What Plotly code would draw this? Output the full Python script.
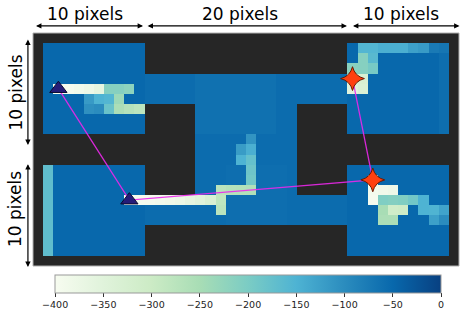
import plotly.graph_objects as go

# ---------------- data ----------------
# '#' = wall, '.' = open cell (42 columns x 23 rows)
grid_map = [
    "##########################################",
    "#..........####################..........#",
    "#..........####################..........#",
    "#..........####################..........#",
    "#........................................#",
    "#........................................#",
    "#........................................#",
    "#..........#####..........#####..........#",
    "#..........#####..........#####..........#",
    "#..........#####..........#####..........#",
    "################..........################",
    "################..........################",
    "################..........################",
    "#..........#####..........#####..........#",
    "#..........#####..........#####..........#",
    "#..........#####..........#####..........#",
    "#........................................#",
    "#........................................#",
    "#........................................#",
    "#..........####################..........#",
    "#..........####################..........#",
    "#..........####################..........#",
    "##########################################",
]

base_value = -50
# (row_from, row_to, col_from, col_to, value)
region_values = [
    (4, 18, 11, 30, -56),
    (4, 9, 16, 23, -62),
    (13, 18, 19, 24, -59),
    (1, 9, 40, 40, -58),
    (13, 21, 1, 1, -170),
]
# (row, col, value)
cell_values = [
    # top-left room
    (5, 2, -400), (5, 3, -396), (5, 4, -388), (5, 5, -378), (5, 6, -362),
    (5, 7, -212), (5, 8, -212), (5, 9, -220),
    (6, 5, -118), (6, 6, -150), (6, 7, -155), (6, 8, -238),
    (7, 5, -105), (7, 6, -100), (7, 7, -180), (7, 8, -255), (7, 9, -268), (7, 10, -278),
    # bottom-left room -> middle corridor
    (16, 9, -400), (16, 10, -398), (16, 11, -395), (16, 12, -390), (16, 13, -384),
    (16, 14, -375), (16, 15, -362), (16, 16, -350), (16, 17, -332), (16, 18, -282),
    (15, 18, -275), (15, 19, -268), (15, 20, -266), (15, 21, -262),
    (17, 18, -276),
    (14, 21, -190), (13, 21, -185), (12, 21, -175), (12, 20, -150),
    (11, 20, -120), (11, 21, -145), (10, 21, -110),
    # top-right room
    (1, 32, -155), (1, 33, -155), (1, 34, -145), (1, 35, -145), (1, 36, -145),
    (1, 37, -125), (1, 38, -118), (1, 39, -75), (1, 40, -70),
    (2, 32, -212), (2, 33, -162),
    (3, 31, -216), (3, 32, -212), (3, 33, -196),
    (4, 31, -340), (4, 32, -330),
    (5, 31, -352), (5, 32, -336),
    # bottom-right room
    (14, 33, -396),
    (15, 33, -392), (15, 34, -386), (15, 35, -380),
    (16, 33, -396), (16, 34, -205), (16, 35, -210), (16, 36, -206), (16, 37, -190), (16, 38, -150),
    (17, 34, -250), (17, 35, -310), (17, 36, -305), (17, 38, -150), (17, 39, -152), (17, 40, -130),
    (18, 34, -255), (18, 35, -255), (18, 39, -125), (18, 40, -100),
]

triangles_col = [2, 9]
triangles_row = [5, 16]
stars_col = [33, 31]
stars_row = [14, 4]
path_col = [2, 9, 33, 31]
path_row = [5, 16, 14, 4]

colorbar_ticks = [-400, -350, -300, -250, -200, -150, -100, -50, 0]

# dimension labels, positions in grid units (columns / rows)
top_labels = ["10 pixels", "20 pixels", "10 pixels"]
top_label_cols = [4.6, 19.9, 35.8]
top_spans = [(-0.35, 10.35), (10.65, 30.45), (30.9, 41.55)]
side_labels = ["10 pixels", "10 pixels"]
side_label_rows = [5.4, 16.9]
side_spans = [(0.0, 10.55), (12.3, 22.6)]

gnbu = ['rgb(247,252,240)', 'rgb(224,243,219)', 'rgb(204,235,197)',
        'rgb(168,221,181)', 'rgb(123,204,196)', 'rgb(78,179,211)',
        'rgb(43,140,190)', 'rgb(8,104,172)', 'rgb(8,64,129)']

# ---------------- build grid ----------------
n_rows = len(grid_map)
n_cols = len(grid_map[0])
z = [[(base_value if ch == '.' else None) for ch in row] for row in grid_map]
for r0, r1, c0, c1, v in region_values:
    for r in range(r0, r1 + 1):
        for c in range(c0, c1 + 1):
            if z[r][c] is not None:
                z[r][c] = v
for r, c, v in cell_values:
    if z[r][c] is not None:
        z[r][c] = v

W, H = 471, 311
ML, MR, MT, MB = 33, 12, 33, 45
plot_w = W - ML - MR
plot_h = H - MT - MB
cell_w = plot_w / n_cols
cell_h = plot_h / n_rows


def px(col):
    return (col + 0.5) / n_cols


def py(row):
    return 1 - (row + 0.5) / n_rows


fig = go.Figure()
fig.add_trace(go.Heatmap(
    z=z, x=list(range(n_cols)), y=list(range(n_rows)),
    zmin=-400, zmax=0,
    colorscale=[[i / (len(gnbu) - 1), c] for i, c in enumerate(gnbu)],
    hoverongaps=False,
    colorbar=dict(
        orientation='h', x=0.505, xanchor='center', y=-0.038, yanchor='top',
        len=386, lenmode='pixels', thickness=18, thicknessmode='pixels',
        xpad=0, ypad=0, tickvals=colorbar_ticks, ticks='outside', ticklen=4,
        tickwidth=1, tickcolor='#333', outlinecolor='#999', outlinewidth=1,
        tickfont=dict(family='DejaVu Sans', size=9.5, color='#222'),
    ),
))

fig.add_trace(go.Scatter(
    x=path_col, y=path_row, mode='lines',
    line=dict(color='rgba(235,40,235,0.9)', width=1.3), hoverinfo='skip', showlegend=False))
fig.add_trace(go.Scatter(
    x=triangles_col, y=triangles_row, mode='markers',
    marker=dict(symbol='triangle-up', size=15, color='#241c78',
                line=dict(color='#0a0a30', width=1)), showlegend=False))
fig.add_trace(go.Scatter(
    x=stars_col, y=stars_row, mode='markers',
    marker=dict(symbol='star-diamond', size=17, color='#ff4010',
                line=dict(color='#6a1a00', width=1)), showlegend=False))

annotations = []
arrow_style = dict(showarrow=True, arrowhead=2, startarrowhead=2, arrowside='end+start',
                   arrowsize=0.9, startarrowsize=0.9, arrowwidth=1.2, arrowcolor='black', text='',
                   xref='paper', yref='paper', axref='pixel', ayref='pixel')
top_arrow_row = -1.2
for (a, b) in top_spans:
    annotations.append(dict(x=px(b), y=py(top_arrow_row), ax=-(b - a) * cell_w, ay=0,
                            **arrow_style))
side_arrow_col = -1.0
for (a, b) in side_spans:
    annotations.append(dict(x=px(side_arrow_col), y=py(b), ax=0, ay=-(b - a) * cell_h,
                            **arrow_style))
label_font = dict(family='DejaVu Sans', size=17, color='black')
for txt, c in zip(top_labels, top_label_cols):
    annotations.append(dict(x=px(c), y=py(-2.4), xref='paper', yref='paper', text=txt,
                            showarrow=False, font=label_font, xanchor='center', yanchor='middle'))
for txt, r in zip(side_labels, side_label_rows):
    annotations.append(dict(x=px(-2.2), y=py(r), xref='paper', yref='paper', text=txt,
                            showarrow=False, font=label_font, textangle=-90,
                            xanchor='center', yanchor='middle'))

fig.update_layout(
    width=W, height=H,
    margin=dict(l=ML, r=MR, t=MT, b=MB, autoexpand=False),
    paper_bgcolor='white', plot_bgcolor='#262626',
    xaxis=dict(range=[-0.5, n_cols - 0.5], visible=False, fixedrange=True),
    yaxis=dict(range=[n_rows - 0.5, -0.5], visible=False, fixedrange=True),
    annotations=annotations,
    shapes=[dict(type='rect', xref='paper', yref='paper', x0=0, x1=1, y0=0, y1=1,
                 line=dict(color='#b0b0b0', width=1), layer='above')],
)

fig.write_html("out.html",
               config={'displayModeBar': False},
               post_script="document.body.style.margin='0';document.body.style.overflow='hidden';")
